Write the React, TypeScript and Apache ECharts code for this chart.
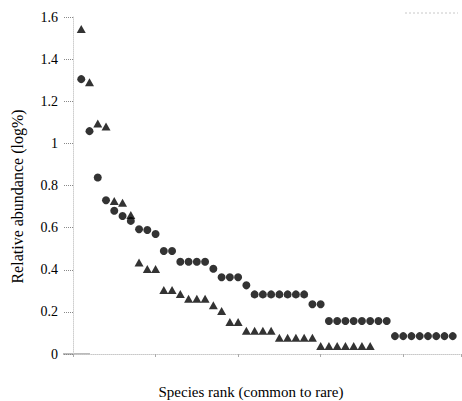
import React, { useEffect, useRef } from "react";
import * as echarts from "echarts";

// Species rank (1 = most common)
const circleValues = [
  1.305, 1.058, 0.838, 0.73, 0.68, 0.655, 0.632, 0.592, 0.589, 0.57,
  0.489, 0.489, 0.438, 0.438, 0.438, 0.438, 0.405, 0.364, 0.364, 0.364,
  0.326, 0.283, 0.283, 0.283, 0.283, 0.283, 0.283, 0.283, 0.236, 0.236,
  0.157, 0.157, 0.157, 0.157, 0.157, 0.157, 0.157, 0.157,
  0.085, 0.085, 0.085, 0.085, 0.085, 0.085, 0.085, 0.085,
];
const triangleValues = [
  1.543, 1.29, 1.094, 1.08, 0.727, 0.718, 0.66, 0.435, 0.403, 0.403,
  0.304, 0.304, 0.285, 0.262, 0.262, 0.262, 0.232, 0.204, 0.152, 0.152,
  0.11, 0.11, 0.11, 0.11, 0.077, 0.077, 0.077, 0.077, 0.077,
  0.038, 0.038, 0.038, 0.038, 0.038, 0.038, 0.038,
];
const yTickLabels = ["0", "0.2", "0.4", "0.6", "0.8", "1", "1.2", "1.4", "1.6"];

const FONT = "'Liberation Serif', 'DejaVu Serif', serif";

export default function App() {
  const ref = useRef<HTMLDivElement>(null);
  useEffect(() => {
    if (!ref.current) return;
    const chart = echarts.init(ref.current, undefined, { renderer: "svg" });
    const toPairs = (vals: number[]) => vals.map((v, i) => [i + 1, v]);
    chart.setOption({
      animation: false,
      backgroundColor: "#ffffff",
      grid: { left: 73, right: 1, top: 17, bottom: 47, outerBoundsMode: "none", containLabel: false },
      xAxis: {
        type: "value",
        min: 0,
        max: 47,
        interval: 10,
        name: "Species rank (common to rare)",
        nameLocation: "middle",
        nameGap: 30,
        nameTextStyle: { fontFamily: FONT, fontSize: 15, color: "#000", padding: [0, 32, 0, 0] },
        axisLine: { show: true, lineStyle: { color: "#c8c8c8", type: "dotted", width: 1 } },
        axisTick: { show: true, length: 3, lineStyle: { color: "#aaa" } },
        axisLabel: { show: false },
        splitLine: { show: false },
      },
      yAxis: {
        type: "value",
        min: 0,
        max: 1.6,
        interval: 0.2,
        name: "Relative abundance (log%)",
        nameLocation: "middle",
        nameRotate: 90,
        nameGap: 48,
        nameTextStyle: { fontFamily: FONT, fontSize: 16, color: "#000", padding: [0, 22, 0, 0] },
        axisLine: { show: true, lineStyle: { color: "#cfcfcf", type: "dotted", width: 1 } },
        axisTick: { show: true, length: 9, lineStyle: { color: "#888", type: "dotted" } },
        axisLabel: {
          fontFamily: FONT,
          fontSize: 14,
          color: "#000",
          margin: 15,
          formatter: (v: number) => {
            const idx = Math.round(v / 0.2);
            return yTickLabels[idx] ?? "";
          },
        },
        splitLine: { show: false },
      },
      graphic: [
        {
          type: "line",
          shape: { x1: 63, y1: 354, x2: 90, y2: 354 },
          style: { stroke: "#777", lineWidth: 1 },
        },
        {
          type: "line",
          shape: { x1: 405, y1: 13, x2: 458, y2: 13 },
          style: { stroke: "#c8c8c8", lineWidth: 1, lineDash: [2, 2] },
        },
      ],
      series: [
        {
          type: "scatter",
          name: "circles",
          data: toPairs(circleValues),
          symbol: "circle",
          symbolSize: 8,
          itemStyle: { color: "#000" },
        },
        {
          type: "scatter",
          name: "triangles",
          data: toPairs(triangleValues),
          symbol: "triangle",
          symbolSize: [9, 8],
          itemStyle: { color: "#000" },
        },
      ],
    });
    return () => chart.dispose();
  }, []);
  return (
    <div
      ref={ref}
      style={{ position: "absolute", left: 0, top: 0, width: 462, height: 401 }}
    />
  );
}
